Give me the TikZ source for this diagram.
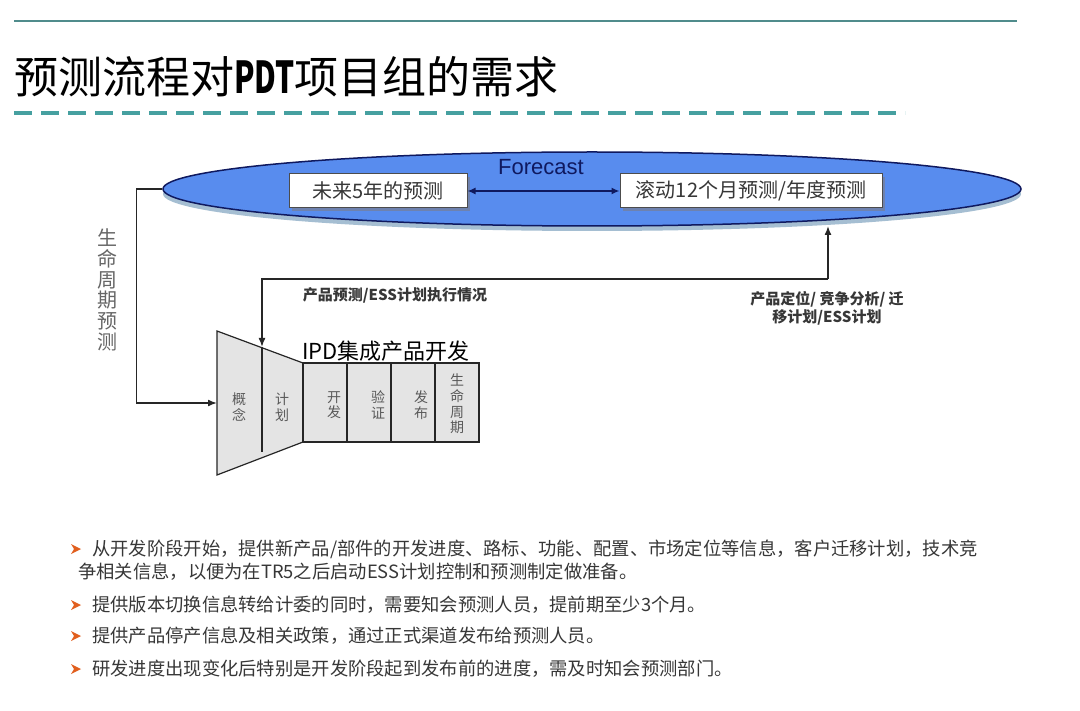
\documentclass[tikz,border=0pt]{standalone}
\usepackage{graphicx}
\usepackage{fontspec}
\setmainfont{Noto Sans CJK SC}
\newfontfamily\lat{Liberation Sans}
\usetikzlibrary{shapes.geometric,arrows.meta,shadows}
\definecolor{teal1}{RGB}{80,140,140}
\definecolor{teal2}{RGB}{70,160,160}
\definecolor{ellfill}{RGB}{88,140,238}
\definecolor{navy}{RGB}{15,25,95}
\definecolor{shad}{RGB}{165,190,210}
\definecolor{boxsh}{RGB}{110,130,175}
\definecolor{gfill}{RGB}{228,228,228}
\definecolor{txt}{RGB}{55,55,55}
\definecolor{bul}{RGB}{225,95,30}
\tikzset{
  fbox/.style={draw=gray!60!black, fill=white, line width=1, minimum height=34, inner sep=0,
    font=\fontsize{20}{20}\selectfont, text=txt,
    drop shadow={shadow xshift=3pt, shadow yshift=-3pt, fill=boxsh, opacity=1}},
  conn/.style={line width=1.5, draw=black!85, -{Latex[length=9pt,width=7pt]}},
  cell/.style={draw=black!85, fill=gfill, line width=1.2, inner sep=0, minimum width=44, minimum height=79},
  lbl/.style={font=\fontsize{14}{15.6}\selectfont, text=black!65, align=center, inner sep=0},
  bl/.style={anchor=west, inner sep=0, font=\fontsize{18.3}{18.3}\selectfont, text=txt},
  smalltxt/.style={font=\bfseries\fontsize{15}{18}\selectfont, text=txt, align=center, inner sep=0}
}
\begin{document}
\begin{tikzpicture}[x=1pt,y=-1pt]
\useasboundingbox[fill=white] (0,0) rectangle (1080,711);
% header
\draw[teal1, line width=2.2] (14,21) -- (1017,21);
\node[anchor=west, inner sep=0, font=\fontsize{44}{44}\selectfont, text=black] (title) at (14,77) {预测流程对\scalebox{0.68}[1]{\bfseries PDT}项目组的需求};
\draw[teal2, line width=4, dash pattern=on 18pt off 9pt] (14,113) -- (905,113);
% forecast ellipse
\fill[shad] (592,194) ellipse [x radius=429, y radius=37];
\node[ellipse, draw=navy, line width=1.5, fill=ellfill, minimum width=858, minimum height=74, inner sep=0] (fc) at (592,189) {};
\node[font=\lat\fontsize{22}{22}\selectfont, text=navy, inner sep=0] (fct) at (541,167) {Forecast};
\node[fbox, minimum width=178] (b1) at (378,191) {未来5年的预测};
\node[fbox, minimum width=262] (b2) at (751,191) {滚动12个月预测/年度预测};
\draw[navy, line width=1.5, {Latex[length=8pt,width=7pt]}-{Latex[length=8pt,width=7pt]}] (b1) -- (b2);
% IPD
\draw[draw=black!85, line width=1.2, fill=gfill] (217,331) -- (303,363) -- (303,442) -- (217,475) -- cycle;
\node[cell] (c1) at (325,402.5) {};
\node[cell] (c2) at (369,402.5) {};
\node[cell] (c3) at (413,402.5) {};
\node[cell] (c4) at (457,402.5) {};
\node[lbl] (l0) at (239,407) {概\\念};
\node[lbl] (l1) at (282,407) {计\\划};
\node[lbl] (l2) at (334,405) {开\\发};
\node[lbl] (l3) at (378,405) {验\\证};
\node[lbl] (l4) at (421,405) {发\\布};
\node[lbl] (l5) at (457,404) {生\\命\\周\\期};
\node[font=\fontsize{22}{22}\selectfont, text=black, inner sep=0] (ipd) at (386,351) {IPD集成产品开发};
% left connector
\coordinate (kL) at (217,403);
\draw[conn] (fc.west) -- ++(-26,0) |- (kL);
\node[font=\fontsize{20}{20.7}\selectfont, text=black!60, align=center, inner sep=0] (lcp) at (107,290) {生\\命\\周\\期\\预\\测};
% right connector
\coordinate (rc) at (828,279);
\coordinate (fcb) at (828,226);
\coordinate (tp) at (262,347);
\coordinate (tb) at (262,452);
\draw[conn] (rc) -- (fcb);
\draw[conn] (rc) -| (tp);
\draw[line width=1.5, draw=black!85] (tp) -- (tb);
\node[smalltxt] (t1) at (395,295) {产品预测/ESS计划执行情况};
\node[smalltxt] (t2) at (827,308) {产品定位/ 竞争分析/ 迁\\移计划/ESS计划};
% bullets
\foreach \yy in {549,605,636,669}{
  \fill[bul] (71,\yy-5) -- (81,\yy) -- (71,\yy+5) -- (74,\yy) -- cycle;
}
\node[bl] (p1a) at (92,549) {从开发阶段开始，提供新产品/部件的开发进度、路标、功能、配置、市场定位等信息，客户迁移计划，技术竞};
\node[bl] (p1b) at (78,572) {争相关信息，以便为在TR5之后启动ESS计划控制和预测制定做准备。};
\node[bl] (p2) at (92,605) {提供版本切换信息转给计委的同时，需要知会预测人员，提前期至少3个月。};
\node[bl] (p3) at (92,636) {提供产品停产信息及相关政策，通过正式渠道发布给预测人员。};
\node[bl] (p4) at (92,669) {研发进度出现变化后特别是开发阶段起到发布前的进度，需及时知会预测部门。};
\end{tikzpicture}
\end{document}
